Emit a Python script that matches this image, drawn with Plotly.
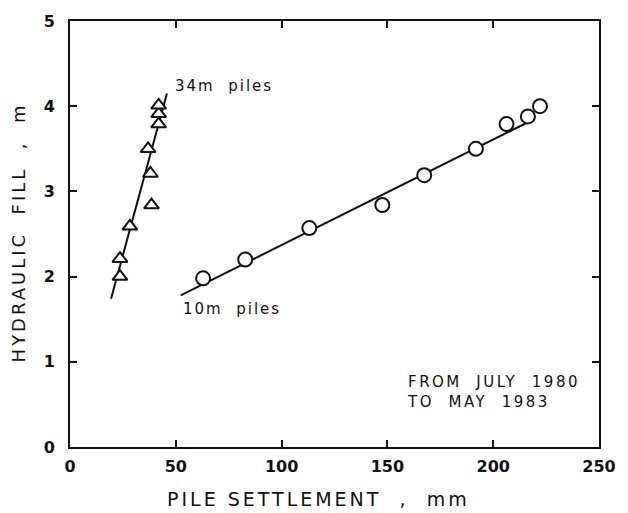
import plotly.graph_objects as go

# 34 m piles (triangles)
tri_x = [23.6, 23.6, 28.3, 36.9, 38.0, 38.5, 41.9, 41.9, 41.9]
tri_y = [2.00, 2.21, 2.59, 3.50, 3.21, 2.84, 3.79, 3.91, 4.01]
tri_fit_x = [19.4, 45.8]
tri_fit_y = [1.74, 4.15]

# 10 m piles (circles)
cir_x = [62.9, 82.8, 113.1, 147.6, 167.4, 191.8, 206.3, 216.4, 222.1]
cir_y = [1.98, 2.20, 2.57, 2.84, 3.19, 3.50, 3.79, 3.88, 4.00]
cir_fit_x = [52.3, 215.5]
cir_fit_y = [1.78, 3.80]

x_ticks = [0, 50, 100, 150, 200, 250]
y_ticks = [0, 1, 2, 3, 4, 5]

FONT = "DejaVu Sans"
BLACK = "#111111"


def spaced(txt, px):
    return f'<span style="letter-spacing:{px}px">{txt}</span>'


fig = go.Figure()
fig.add_trace(go.Scatter(x=tri_fit_x, y=tri_fit_y, mode="lines",
                         line=dict(color=BLACK, width=2), showlegend=False))
fig.add_trace(go.Scatter(x=cir_fit_x, y=cir_fit_y, mode="lines",
                         line=dict(color=BLACK, width=2), showlegend=False))
fig.add_trace(go.Scatter(x=tri_x, y=tri_y, mode="markers",
                         marker=dict(symbol="triangle-up", size=13, color="white",
                                     line=dict(color=BLACK, width=2)),
                         showlegend=False))
fig.add_trace(go.Scatter(x=cir_x, y=cir_y, mode="markers",
                         marker=dict(symbol="circle", size=14, color="white",
                                     line=dict(color=BLACK, width=2)),
                         showlegend=False))

axis_common = dict(showgrid=False, zeroline=False, showline=True, linecolor=BLACK,
                   linewidth=2, mirror="ticks", ticks="inside", ticklen=7,
                   tickwidth=1.5, tickcolor=BLACK,
                   tickfont=dict(family=FONT, size=16, color=BLACK, weight="bold"))

fig.update_xaxes(range=[0, 250], tickvals=x_ticks, ticktext=[str(v) for v in x_ticks],
                 ticklabelstandoff=4, **axis_common)
fig.update_yaxes(range=[0, 5], tickvals=y_ticks, ticktext=[str(v) for v in y_ticks],
                 ticklabelstandoff=10, **axis_common)

annotations = [
    dict(x=48.9, y=4.24, xref="x", yref="y", text=spaced("34m  piles", 2), showarrow=False,
         xanchor="left", yanchor="middle", font=dict(family=FONT, size=15, color=BLACK)),
    dict(x=52.3, y=1.62, xref="x", yref="y", text=spaced("10m  piles", 2), showarrow=False,
         xanchor="left", yanchor="middle", font=dict(family=FONT, size=15, color=BLACK)),
    dict(x=158.5, y=0.64, xref="x", yref="y",
         text=spaced("FROM  JULY  1980", 2.5) + "<br>" + spaced("TO  MAY  1983", 2.5),
         showarrow=False, xanchor="left", yanchor="middle", align="left",
         font=dict(family=FONT, size=15, color=BLACK)),
    dict(x=0.47, y=-0.122, xref="paper", yref="paper",
         text=spaced("PILE SETTLEMENT  ,  mm", 3),
         showarrow=False, xanchor="center", yanchor="middle",
         font=dict(family=FONT, size=19, color=BLACK)),
    dict(x=-0.097, y=0.503, xref="paper", yref="paper",
         text=spaced("HYDRAULIC  FILL  ,  m", 3),
         showarrow=False, xanchor="center", yanchor="middle", textangle=-90,
         font=dict(family=FONT, size=18, color=BLACK)),
]

fig.update_layout(width=628, height=513, margin=dict(l=70, r=22, t=17, b=66),
                  paper_bgcolor="white", plot_bgcolor="white",
                  annotations=annotations, showlegend=False)

fig.write_html("out.html")
